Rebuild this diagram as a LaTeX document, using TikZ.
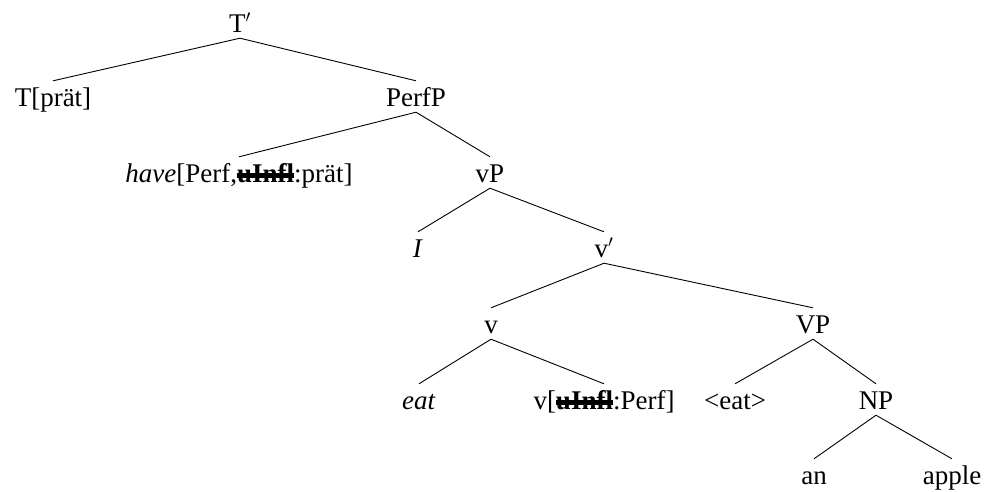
\documentclass[tikz,border=0pt]{standalone}
\usepackage{fontspec}
\setmainfont{Liberation Serif}
\newcommand\strk[1]{\setbox0\hbox{#1}\rlap{\rule[4pt]{\wd0}{5pt}}\box0}
\begin{document}
\begin{tikzpicture}[x=1pt,y=-1pt,
  lab/.style={inner sep=0pt,text height=25pt,text depth=6pt,anchor=base,font=\fontsize{27}{32}\selectfont},
  edge/.style={line width=0.9pt}]
\useasboundingbox (0,0) rectangle (995,491);
\node[lab] (tbar) at (240,32) {T$'$};
\node[lab] (t) at (53,106) {T[prät]};
\node[lab] (perfp) at (416,106) {PerfP};
\node[lab] (have) at (239,182) {\textit{have}[Perf,\strk{\textbf{uInfl}}:prät]};
\node[lab] (vp) at (490,182) {vP};
\node[lab] (i) at (418,257) {\textit{I}};
\node[lab] (vbar) at (604,257) {v$'$};
\node[lab] (v) at (491,333) {v};
\node[lab] (bigvp) at (813,333) {VP};
\node[lab] (eat) at (419,409) {\textit{eat}};
\node[lab] (vinfl) at (604,409) {v[\strk{\textbf{uInfl}}:Perf]};
\node[lab] (treat) at (735,409) {<eat>};
\node[lab] (np) at (876,409) {NP};
\node[lab] (an) at (814,484) {an};
\node[lab] (apple) at (952,484) {apple};
\foreach \p/\c in {tbar/t,tbar/perfp,perfp/have,perfp/vp,vp/i,vp/vbar,vbar/v,vbar/bigvp,v/eat,v/vinfl,bigvp/treat,bigvp/np,np/an,np/apple}
  \draw[edge] (\p.south) -- (\c.north);
\end{tikzpicture}
\end{document}
